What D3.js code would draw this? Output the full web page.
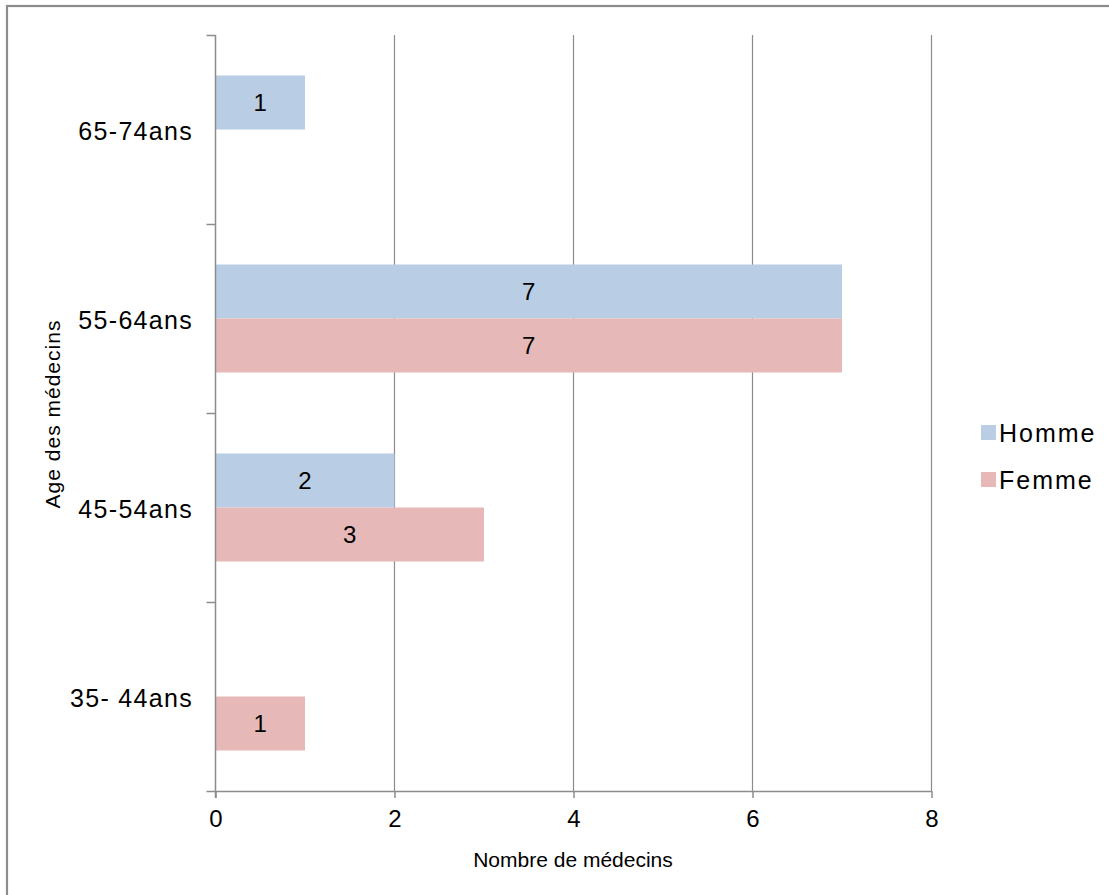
<!DOCTYPE html>
<html>
<head>
<meta charset="utf-8">
<script src="https://cdn.jsdelivr.net/npm/d3@7"></script>
<style>
  html, body { margin: 0; padding: 0; background: #fff; }
  svg { display: block; font-family: "Liberation Sans", Arial, sans-serif; }
</style>
</head>
<body>
<svg id="chart" width="1109" height="895"></svg>
<script>
// Age groups, listed top to bottom
const categories = ["65-74ans", "55-64ans", "45-54ans", "35- 44ans"];
const seriesNames = ["Homme", "Femme"];
const homme = [1, 7, 2, 0];
const femme = [0, 7, 3, 1];
const xTicks = [0, 2, 4, 6, 8];
const colors = ["#B9CDE5", "#E6B9B8"];

const svg = d3.select("#chart");
const W = 1109, H = 895;

// outer frame
svg.append("rect")
  .attr("x", 7).attr("y", 6)
  .attr("width", W + 10).attr("height", H + 10)
  .attr("fill", "#fff")
  .attr("stroke", "#8c8c8c").attr("stroke-width", 2.2);

const plot = { left: 215.5, right: 931.5, top: 35, bottom: 791 };

const x = d3.scaleLinear().domain([0, 8]).range([plot.left, plot.right]);
const y = d3.scaleBand().domain(categories).range([plot.top, plot.bottom])
  .paddingInner(81 / 189).paddingOuter(40.5 / 189);
const ySub = d3.scaleBand().domain(seriesNames).range([0, y.bandwidth()]);

// vertical gridlines
svg.append("g").selectAll("line")
  .data(xTicks.filter(d => d > 0))
  .join("line")
  .attr("x1", d => x(d)).attr("x2", d => x(d))
  .attr("y1", plot.top).attr("y2", plot.bottom)
  .attr("stroke", "#8c8c8c").attr("stroke-width", 1.2);

// bars
const rows = categories.map((c, i) => ({ cat: c, values: [homme[i], femme[i]] }));
const groups = svg.append("g").selectAll("g")
  .data(rows).join("g")
  .attr("transform", d => `translate(0,${y(d.cat)})`);

groups.selectAll("rect")
  .data(d => d.values.map((v, j) => ({ name: seriesNames[j], v, j })))
  .join("rect")
  .filter(d => d.v > 0)
  .attr("x", x(0))
  .attr("y", d => ySub(d.name))
  .attr("width", d => x(d.v) - x(0))
  .attr("height", ySub.bandwidth())
  .attr("fill", d => colors[d.j]);

groups.selectAll("text")
  .data(d => d.values.map((v, j) => ({ name: seriesNames[j], v, j })).filter(d => d.v > 0))
  .join("text")
  .attr("x", d => (x(d.v) + x(0)) / 2)
  .attr("y", d => ySub(d.name) + ySub.bandwidth() / 2)
  .attr("dy", "0.36em")
  .attr("text-anchor", "middle")
  .attr("font-size", 24)
  .attr("fill", "#000")
  .text(d => d.v);

// x axis
const xAxis = svg.append("g")
  .attr("transform", `translate(0,${plot.bottom})`)
  .call(d3.axisBottom(x).tickValues(xTicks).tickSize(7).tickSizeOuter(0).tickPadding(12));
xAxis.select(".domain").attr("stroke", "#8c8c8c").attr("stroke-width", 1.5)
  .attr("d", `M${plot.left - 9},0.5H${plot.right}`);
xAxis.selectAll(".tick line").attr("stroke", "#8c8c8c").attr("stroke-width", 1.5);
xAxis.selectAll(".tick text").attr("font-size", 24).attr("fill", "#000")
  .attr("font-family", "Liberation Sans, Arial, sans-serif");

// y axis with ticks at band boundaries
const yLine = svg.append("g");
yLine.append("line")
  .attr("x1", plot.left).attr("x2", plot.left)
  .attr("y1", plot.top).attr("y2", plot.bottom + 7)
  .attr("stroke", "#8c8c8c").attr("stroke-width", 1.5);
const boundaries = d3.range(categories.length).map(i => y.range()[0] + i * y.step());
yLine.selectAll("line.tick")
  .data(boundaries).join("line").attr("class", "tick")
  .attr("x1", plot.left - 9).attr("x2", plot.left)
  .attr("y1", d => d + 0.5).attr("y2", d => d + 0.5)
  .attr("stroke", "#8c8c8c").attr("stroke-width", 1.5);

svg.append("g").selectAll("text")
  .data(categories).join("text")
  .attr("x", 193)
  .attr("y", d => y(d) + y.bandwidth() / 2 + 1)
  .attr("dy", "0.36em")
  .attr("text-anchor", "end")
  .attr("font-size", 25)
  .attr("letter-spacing", 1.3)
  .attr("fill", "#000")
  .text(d => d);

// axis titles
svg.append("text")
  .attr("x", 573).attr("y", 859).attr("dy", "0.36em")
  .attr("text-anchor", "middle")
  .attr("font-size", 21).attr("fill", "#000")
  .text("Nombre de médecins");

svg.append("text")
  .attr("transform", "translate(52,414) rotate(-90)")
  .attr("dy", "0.36em")
  .attr("text-anchor", "middle")
  .attr("font-size", 21).attr("fill", "#000")
  .attr("letter-spacing", 1)
  .text("Age des médecins");

// legend
const legend = svg.append("g").selectAll("g")
  .data(seriesNames).join("g")
  .attr("transform", (d, i) => `translate(981,${425 + i * 47})`);
legend.append("rect")
  .attr("width", 15).attr("height", 15)
  .attr("fill", (d, i) => colors[i]);
legend.append("text")
  .attr("x", 18).attr("y", 8).attr("dy", "0.36em")
  .attr("font-size", 25).attr("fill", "#000")
  .attr("letter-spacing", 2)
  .text(d => d);
</script>
</body>
</html>
